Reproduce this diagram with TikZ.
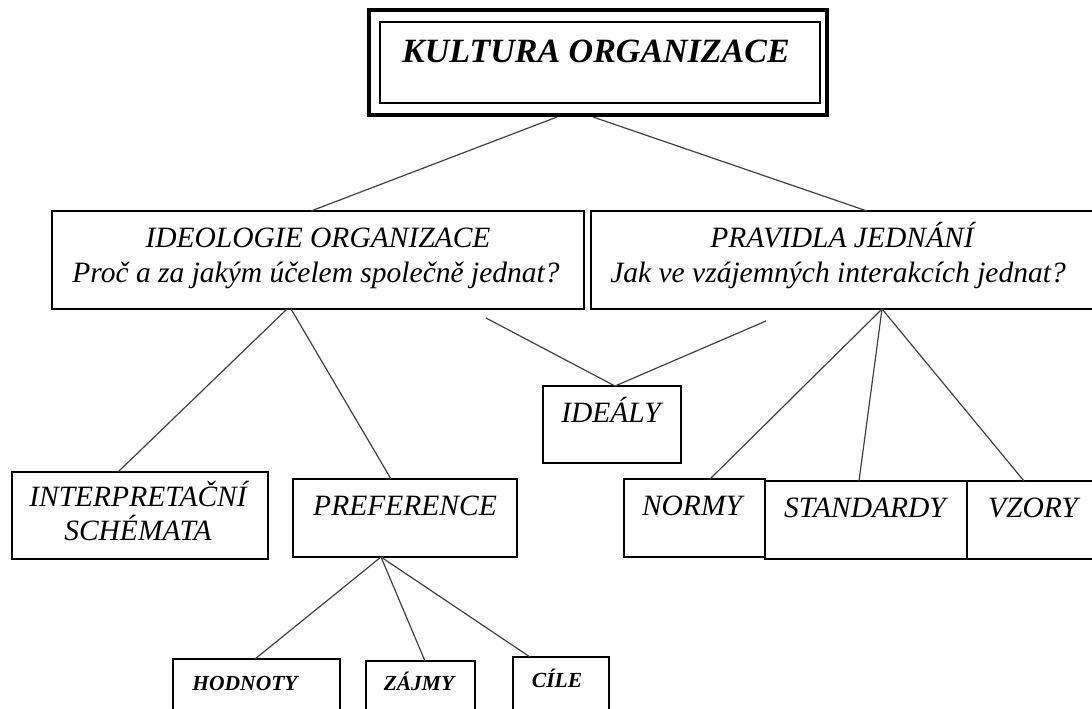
\documentclass[tikz,border=0pt]{standalone}
\usepackage{fontspec}
\setmainfont{Liberation Serif}
\begin{document}
\begin{tikzpicture}[x=1pt,y=-1pt,
  box/.style={draw=black, line width=1.4pt, inner sep=0pt, outer sep=0pt, anchor=north west},
  conn/.style={draw=black!75, line width=1.2pt},
  txt/.style={font=\fontsize{29.5}{30}\selectfont\itshape, inner sep=0pt, anchor=base},
  smalltxt/.style={font=\fontsize{21.5}{22}\selectfont\bfseries\itshape, inner sep=0pt, anchor=base},
  bigtxt/.style={font=\fontsize{34}{36}\selectfont\bfseries\itshape, inner sep=0pt, anchor=base}]
\useasboundingbox (0,0) rectangle (1092,709);
\clip (0,0) rectangle (1092,709);

% top
\node[box, line width=4pt, minimum width=458pt, minimum height=105pt] (top) at (369,10) {};
\node[box, line width=1.2pt, minimum width=440pt, minimum height=81pt] (topin) at (380,22) {};
\node[bigtxt] (toptxt) at (596,63) {KULTURA ORGANIZACE};

% second level
\node[box, minimum width=532pt, minimum height=98pt] (ideo) at (52,211) {};
\node[txt] (ideo1) at (318,247) {IDEOLOGIE ORGANIZACE};
\node[txt] (ideo2) at (316,282) {Proč a za jakým účelem společně jednat?};

\node[box, minimum width=520pt, minimum height=98pt] (prav) at (591,211) {};
\node[txt] (prav1) at (842,247) {PRAVIDLA JEDNÁNÍ};
\node[txt] (prav2) at (838,282) {Jak ve vzájemných interakcích jednat?};

% ideály
\node[box, minimum width=138pt, minimum height=77pt] (idealy) at (543,386) {};
\node[txt] (idealytxt) at (611,422) {IDEÁLY};

% third level left
\node[box, minimum width=256pt, minimum height=87pt] (interp) at (12,472) {};
\node[txt] (interp1) at (138,506) {INTERPRETAČNÍ};
\node[txt] (interp2) at (138,540) {SCHÉMATA};

\node[box, minimum width=224pt, minimum height=78pt] (pref) at (293,479) {};
\node[txt] (preftxt) at (405,515) {PREFERENCE};

% third level right
\node[box, minimum width=141pt, minimum height=78pt] (normy) at (624,479) {};
\node[txt] (normytxt) at (692,515) {NORMY};
\node[box, minimum width=202pt, minimum height=78pt] (stand) at (765,481) {};
\node[txt] (standtxt) at (865,517) {STANDARDY};
\node[box, minimum width=140pt, minimum height=78pt] (vzory) at (967,481) {};
\node[txt] (vzorytxt) at (1033,517) {VZORY};

% fourth level
\node[box, minimum width=167pt, minimum height=70pt] (hod) at (173,659) {};
\node[smalltxt] (hodtxt) at (245,690) {HODNOTY};
\node[box, minimum width=109pt, minimum height=70pt] (zaj) at (366,661) {};
\node[smalltxt] (zajtxt) at (419,690) {ZÁJMY};
\node[box, minimum width=96pt, minimum height=70pt] (cile) at (513,657) {};
\node[smalltxt] (ciletxt) at (557,687) {CÍLE};

% free ends
\coordinate (il) at (486,318);
\coordinate (ir) at (766,321);

% connectors
\draw[conn] ([xshift=188pt,yshift=-2pt]top.south west) -- ([xshift=259pt]ideo.north west);
\draw[conn] ([xshift=224pt,yshift=-2pt]top.south west) -- ([xshift=276pt]prav.north west);
\draw[conn] ([xshift=235pt]ideo.south west) -- ([xshift=106pt]interp.north west);
\draw[conn] ([xshift=239pt]ideo.south west) -- ([xshift=98pt]pref.north west);
\draw[conn] (il) -- ([xshift=72pt]idealy.north west);
\draw[conn] (ir) -- ([xshift=72pt]idealy.north west);
\draw[conn] ([xshift=291pt]prav.south west) -- ([xshift=86pt]normy.north west);
\draw[conn] ([xshift=291pt]prav.south west) -- ([xshift=94pt]stand.north west);
\draw[conn] ([xshift=291pt]prav.south west) -- ([xshift=57pt]vzory.north west);
\draw[conn] ([xshift=88pt]pref.south west) -- ([xshift=82pt]hod.north west);
\draw[conn] ([xshift=88pt]pref.south west) -- ([xshift=59pt]zaj.north west);
\draw[conn] ([xshift=88pt]pref.south west) -- ([xshift=17pt]cile.north west);
\end{tikzpicture}
\end{document}
